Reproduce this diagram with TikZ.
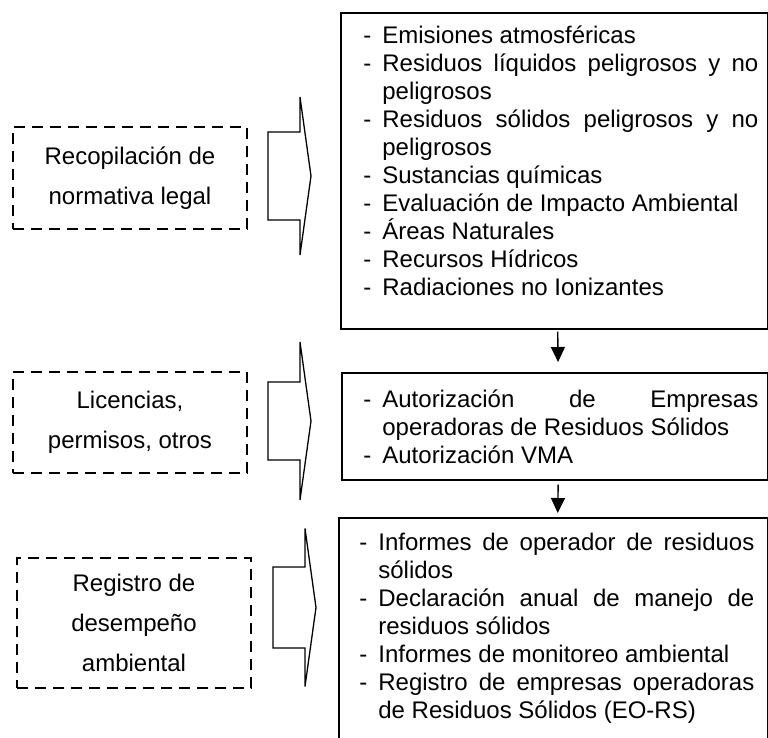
\documentclass[tikz,border=0pt]{standalone}
\usepackage{fontspec}
\setmainfont{Liberation Sans}
\usetikzlibrary{arrows.meta, positioning, calc}

\tolerance=10000
\hbadness=10000
\newcommand{\listfont}{\fontsize{12}{14}\selectfont\lineskiplimit=-\maxdimen\relax}
\newcommand{\guion}{\makebox[9.5pt][l]{-}}
\newcommand{\fila}[1]{\par\noindent\hangindent=9.5pt\hangafter=1\guion\strut#1}

\begin{document}
\begin{tikzpicture}[x=0.5pt, y=-0.5pt,
  dashbox/.style={draw, dashed, dash pattern=on 5.5pt off 3.5pt, line width=0.8pt,
    minimum width=117pt, align=center, font=\fontsize{12}{20}\selectfont},
  listbox/.style={draw, line width=0.8pt, anchor=north west, inner sep=0pt},
  listtext/.style={anchor=north west, inner sep=0pt, text width=197.5pt,
    align=justify, font=\listfont},
  flecha/.style={-{Triangle[width=7pt,length=7.5pt]}, line width=0.7pt},
  bloque/.style={line width=0.65pt, line join=miter}]
  \useasboundingbox (0,0) rectangle (768,738);

  % --- left column: dashed boxes
  \node[dashbox, minimum height=51pt]   (recop) at (130,178)   {Recopilación de\\normativa legal};
  \node[dashbox, minimum height=50.5pt] (licen) at (130,422.5) {Licencias,\\permisos, otros};
  \node[dashbox, minimum height=65pt]   (regis) at (134,623)   {Registro de\\desempeño\\ambiental};

  % --- right column: solid boxes
  \node[listbox, minimum width=213.5pt, minimum height=158pt]   (normas)   at (340,12)  {};
  \node[listbox, minimum width=213pt,   minimum height=53.5pt]  (permisos) at (341,372) {};
  \node[listbox, minimum width=214.5pt, minimum height=112.5pt] (informes) at (338,517) {};

  % --- lists inside the boxes
  \node[listtext] (normas-txt) at ([xshift=11.5pt, yshift=-1.8pt]normas.north west) {%
    \fila{Emisiones atmosféricas}
    \fila{Residuos líquidos peligrosos y no\linebreak peligrosos}
    \fila{Residuos sólidos peligrosos y no\linebreak peligrosos}
    \fila{Sustancias químicas}
    \fila{Evaluación de Impacto Ambiental}
    \fila{Áreas Naturales}
    \fila{Recursos Hídricos}
    \fila{Radiaciones no Ionizantes}\par};
  \node[listtext] (permisos-txt) at ([xshift=11pt, yshift=-3.6pt]permisos.north west) {%
    \fila{Autorización de Empresas\linebreak operadoras de Residuos Sólidos}
    \fila{Autorización VMA}\par};
  \node[listtext] (informes-txt) at ([xshift=10.5pt, yshift=-2.4pt]informes.north west) {%
    \fila{Informes de operador de residuos\linebreak sólidos}
    \fila{Declaración anual de manejo de\linebreak residuos sólidos}
    \fila{Informes de monitoreo ambiental}
    \fila{Registro de empresas operadoras\linebreak de Residuos Sólidos (EO-RS)}\par};

  % --- arrows between the boxes on the right
  \draw[flecha, shorten <=1pt, shorten >=5pt] ([xshift=1.7pt]normas.south) -- ([xshift=1.7pt]permisos.north);
  \draw[flecha, shorten <=2pt, shorten >=2pt] ([xshift=1.7pt]permisos.south) -- ([xshift=2.2pt]informes.north);

  % --- block arrows
  \foreach \x/\y/\s in {268/176/44, 268/421/39, 273/607.5/40.5}
    \draw[bloque] (\x,\y-\s) -- (\x+32,\y-\s) -- (\x+32,\y-79) -- (\x+43,\y)
      -- (\x+32,\y+79) -- (\x+32,\y+\s) -- (\x,\y+\s) -- cycle;
\end{tikzpicture}
\end{document}
